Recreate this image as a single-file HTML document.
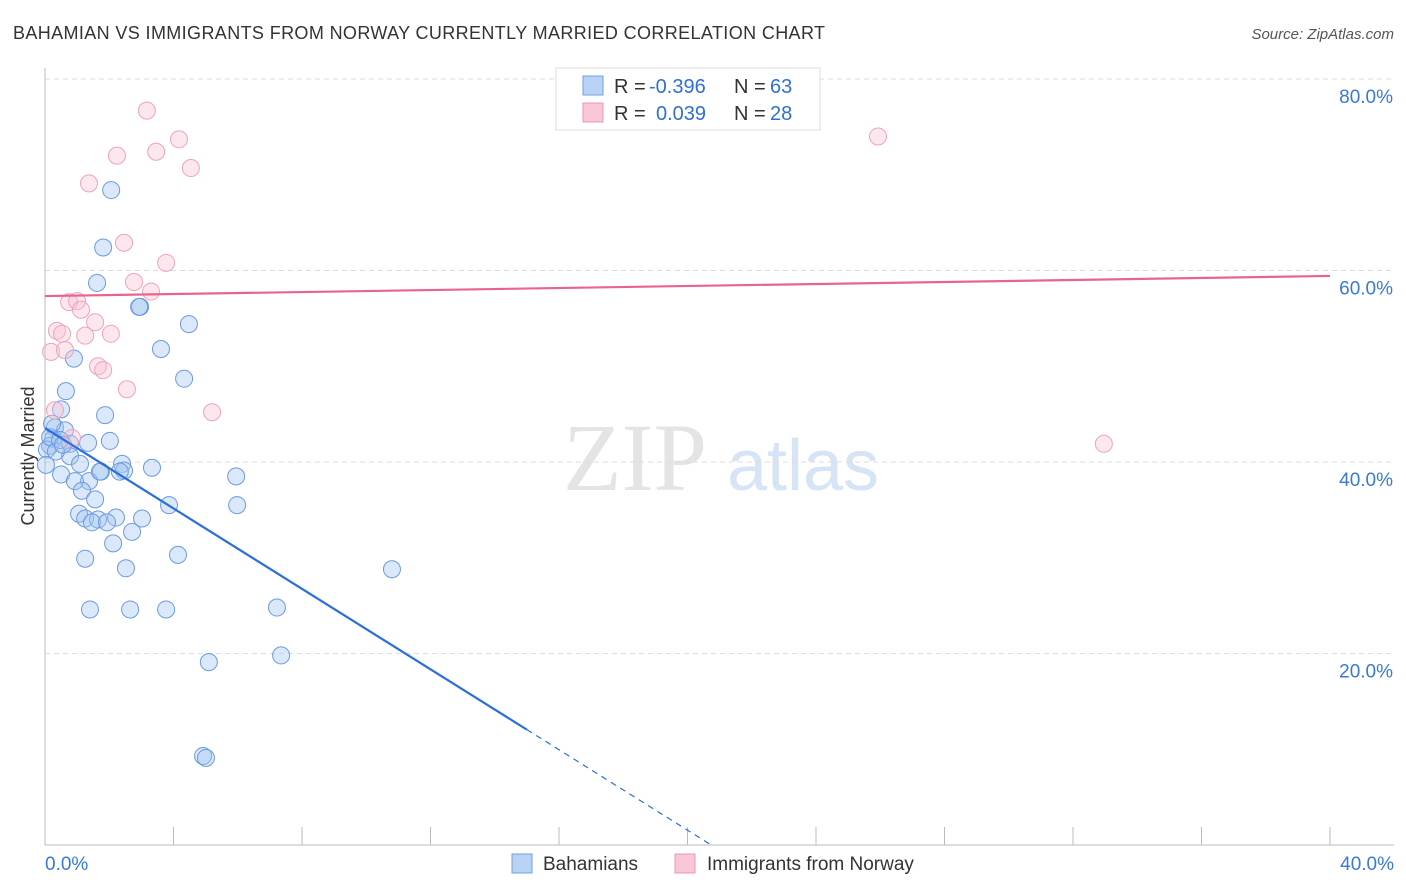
<!DOCTYPE html>
<html><head><meta charset="utf-8"><style>
body{margin:0;background:#fff;font-family:"Liberation Sans",sans-serif;}
svg{display:block}
</style></head><body>
<svg id="chart" width="1406" height="892" xmlns="http://www.w3.org/2000/svg">
<text x="13" y="39" font-size="18" fill="#333" textLength="812">BAHAMIAN VS IMMIGRANTS FROM NORWAY CURRENTLY MARRIED CORRELATION CHART</text>
<text x="1394" y="39" font-size="15" fill="#555" text-anchor="end" font-style="italic">Source: ZipAtlas.com</text>
<text transform="translate(34,456) rotate(-90)" font-size="18" fill="#333" text-anchor="middle">Currently Married</text>
<g>
<text x="635" y="490" font-size="96" fill="#e4e4e4" text-anchor="middle" font-family="Liberation Serif, serif">ZIP</text>
<text x="803" y="490" font-size="72" fill="#d6e4f5" text-anchor="middle">atlas</text>
</g>
<g id="grid"></g>
<g id="axes"></g>
<g id="pts"></g>
<g id="lines"></g>
<g>
<rect x="556" y="68" width="264" height="62" fill="#fff" stroke="#ddd"/>
<rect x="583" y="76" width="20" height="19" fill="#b9d3f4" stroke="#6f9fe0"/>
<rect x="583" y="103" width="20" height="19" fill="#f9c6d5" stroke="#ec95b0"/>
<text x="614" y="93" font-size="20" fill="#333">R = <tspan x="649" fill="#2f6fd6">-0.396</tspan><tspan x="734">N = </tspan><tspan x="770" fill="#2f6fd6">63</tspan></text>
<text x="614" y="120" font-size="20" fill="#333">R = <tspan x="656" fill="#2f6fd6">0.039</tspan><tspan x="734">N = </tspan><tspan x="770" fill="#2f6fd6">28</tspan></text>
</g>
<g>
<rect x="512" y="854" width="20" height="19" fill="#b9d3f4" stroke="#6f9fe0"/>
<text x="543" y="870" font-size="19" fill="#333">Bahamians</text>
<rect x="675" y="854" width="20" height="19" fill="#f9c6d5" stroke="#ec95b0"/>
<text x="707" y="870" font-size="19" fill="#333">Immigrants from Norway</text>
</g>
</svg>
<script>
const xTicks=[0,4,8,12,16,20,24,28,32,36,40];
const yTicks=[20,40,60,80];
const bahX=[2.06,1.81,1.62,2.96,2.93,4.48,3.61,0.90,4.33,0.65,0.50,1.87,0.31,0.62,2.02,0.25,1.34,0.78,0.16,0.78,1.09,2.40,3.33,1.74,2.46,0.50,1.37,0.93,5.95,1.15,1.56,3.86,5.98,1.06,1.25,2.21,3.02,1.65,1.46,1.93,2.71,2.12,4.14,1.25,2.52,10.80,1.40,2.65,3.77,7.22,5.10,7.35,4.92,5.01,0.06,0.16,0.34,0.47,0.03,0.22,0.56,1.71,2.33];
const bahY=[68.4,62.4,58.7,56.2,56.2,54.4,51.8,50.8,48.7,47.4,45.5,44.9,43.6,43.3,42.2,42.4,42.0,41.9,41.7,40.6,39.8,39.8,39.4,39.0,39.1,38.7,38.0,38.0,38.5,37.0,36.1,35.5,35.5,34.6,34.1,34.2,34.1,34.0,33.7,33.7,32.7,31.5,30.3,29.9,28.9,28.8,24.6,24.6,24.6,24.8,19.1,19.8,9.3,9.1,41.3,42.6,41.1,42.3,39.7,44.0,41.8,39.0,39.0];
const norX=[3.17,4.17,2.24,3.46,4.54,1.37,2.46,3.77,2.77,3.30,0.75,1.00,1.12,1.56,0.37,0.53,1.25,2.05,0.19,0.62,1.65,1.81,2.55,5.20,0.31,0.84,25.93,32.96];
const norY=[76.7,73.7,72.0,72.4,70.7,69.1,62.9,60.8,58.8,57.8,56.7,56.8,55.9,54.6,53.7,53.4,53.2,53.4,51.5,51.7,50.0,49.6,47.6,45.2,45.4,42.5,74.0,41.9];
const bahLine=[43.55,-2.1];
const norLine=[57.33,0.0525];
const X0=45,X1=1330,Y0=845,Y80=79;
const xs=v=>X0+(v/40)*(X1-X0);
const ys=v=>Y0-(v/80)*(Y0-Y80);
const NS="http://www.w3.org/2000/svg";
function mk(tag,attrs,parent,txt){const e=document.createElementNS(NS,tag);for(const k in attrs)e.setAttribute(k,attrs[k]);if(txt!==undefined)e.textContent=txt;document.getElementById(parent).appendChild(e);return e;}
yTicks.forEach(t=>{
 const g=mk('line',{x1:X0,x2:1394,y1:ys(t),y2:ys(t),stroke:'#ddd','stroke-dasharray':'5,4'},'grid');
 
 
 const l=mk('text',{x:1393,y:ys(t)+24,'font-size':19,fill:'#3a78d8','text-anchor':'end'},'grid',t.toFixed(1)+'%');
 
 
});
const ax=mk('line',{x1:X0,x2:X0,y1:68,y2:Y0,stroke:'#bbb'},'axes');


const bx=mk('line',{x1:X0,x2:1394,y1:Y0,y2:Y0,stroke:'#bbb'},'axes');


xTicks.forEach(t=>{
 const tk=mk('line',{x1:xs(t),x2:xs(t),y1:827,y2:Y0,stroke:'#bbb'},'axes');
 
 
});
const xl0=mk('text',{x:45,y:870,'font-size':19,fill:'#3a78d8'},'axes',xTicks[0].toFixed(1)+'%');


const xl1=mk('text',{x:1394,y:870,'font-size':19,fill:'#3a78d8','text-anchor':'end'},'axes',xTicks[xTicks.length-1].toFixed(1)+'%');


bahX.forEach((x,i)=>{
 const c=mk('circle',{cx:xs(x),cy:ys(bahY[i]),r:8.5,fill:'rgba(165,198,240,0.4)',stroke:'#6a9be2','stroke-width':1},'pts');
 
 
});
norX.forEach((x,i)=>{
 const c=mk('circle',{cx:xs(x),cy:ys(norY[i]),r:8.5,fill:'rgba(248,195,212,0.4)',stroke:'#eea3bb','stroke-width':1},'pts');
 
 
});
const bEnd=15, bZero=-bahLine[0]/bahLine[1];
const bl=mk('line',{x1:xs(0),y1:ys(bahLine[0]),x2:xs(bEnd),y2:ys(bahLine[0]+bahLine[1]*bEnd),stroke:'#2a6fd8','stroke-width':2.2},'lines');


const bd=mk('line',{x1:xs(bEnd),y1:ys(bahLine[0]+bahLine[1]*bEnd),x2:xs(bZero),y2:ys(0),stroke:'#2a6fd8','stroke-width':1.2,'stroke-dasharray':'6,5'},'lines');


const nl=mk('line',{x1:xs(0),y1:ys(norLine[0]),x2:xs(40),y2:ys(norLine[0]+norLine[1]*40),stroke:'#e8648e','stroke-width':2.2},'lines');


</script>
</body></html>
